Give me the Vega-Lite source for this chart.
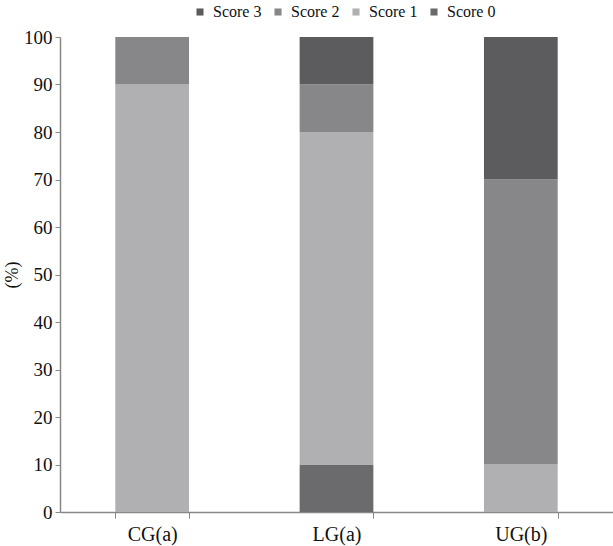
{
  "$schema": "https://vega.github.io/schema/vega-lite/v6.json",
  "width": 553,
  "height": 475,
  "autosize": "none",
  "padding": {"left": 60, "top": 37, "right": 0, "bottom": 34},
  "background": "white",
  "data": {
    "values": [
      {"group": "CG(a)", "score": "Score 0", "rank": 0, "value": 0},
      {"group": "CG(a)", "score": "Score 1", "rank": 1, "value": 90},
      {"group": "CG(a)", "score": "Score 2", "rank": 2, "value": 10},
      {"group": "CG(a)", "score": "Score 3", "rank": 3, "value": 0},
      {"group": "LG(a)", "score": "Score 0", "rank": 0, "value": 10},
      {"group": "LG(a)", "score": "Score 1", "rank": 1, "value": 70},
      {"group": "LG(a)", "score": "Score 2", "rank": 2, "value": 10},
      {"group": "LG(a)", "score": "Score 3", "rank": 3, "value": 10},
      {"group": "UG(b)", "score": "Score 0", "rank": 0, "value": 0},
      {"group": "UG(b)", "score": "Score 1", "rank": 1, "value": 10},
      {"group": "UG(b)", "score": "Score 2", "rank": 2, "value": 60},
      {"group": "UG(b)", "score": "Score 3", "rank": 3, "value": 30}
    ]
  },
  "mark": {"type": "bar"},
  "encoding": {
    "x": {
      "field": "group",
      "type": "nominal",
      "sort": ["CG(a)", "LG(a)", "UG(b)"],
      "scale": {"paddingInner": 0.6, "paddingOuter": 0.3},
      "axis": {
        "title": null,
        "labelAngle": 0,
        "labelFont": "Liberation Serif",
        "labelFontSize": 20,
        "labelColor": "#111",
        "labelPadding": 6,
        "tickBand": "extent",
        "tickColor": "#888",
        "tickSize": 6,
        "domainColor": "#888",
        "domainWidth": 1.5
      }
    },
    "y": {
      "field": "value",
      "type": "quantitative",
      "stack": "zero",
      "scale": {"domain": [0, 100], "nice": false},
      "axis": {
        "title": "(%)",
        "titleFont": "Liberation Serif",
        "titleFontSize": 18,
        "titleFontWeight": "normal",
        "titleColor": "#111",
        "titlePadding": 2,
        "values": [0, 10, 20, 30, 40, 50, 60, 70, 80, 90, 100],
        "labelFont": "Liberation Serif",
        "labelFontSize": 19,
        "labelColor": "#111",
        "labelPadding": 3,
        "grid": false,
        "tickColor": "#888",
        "tickSize": 5,
        "domainColor": "#888",
        "domainWidth": 1.5
      }
    },
    "color": {
      "field": "score",
      "type": "nominal",
      "sort": ["Score 3", "Score 2", "Score 1", "Score 0"],
      "scale": {
        "domain": ["Score 3", "Score 2", "Score 1", "Score 0"],
        "range": ["#5c5c5e", "#87878a", "#b0b0b3", "#6b6b6d"]
      },
      "legend": {
        "title": null,
        "orient": "none",
        "direction": "horizontal",
        "legendX": 132,
        "legendY": -33,
        "symbolType": "square",
        "symbolSize": 50,
        "symbolStrokeWidth": 0,
        "labelFont": "Liberation Serif",
        "labelFontSize": 16,
        "labelColor": "#111",
        "columnPadding": 8,
        "labelOffset": 5
      }
    },
    "order": {"field": "rank", "type": "quantitative", "sort": "ascending"}
  },
  "config": {"view": {"stroke": null}}
}
